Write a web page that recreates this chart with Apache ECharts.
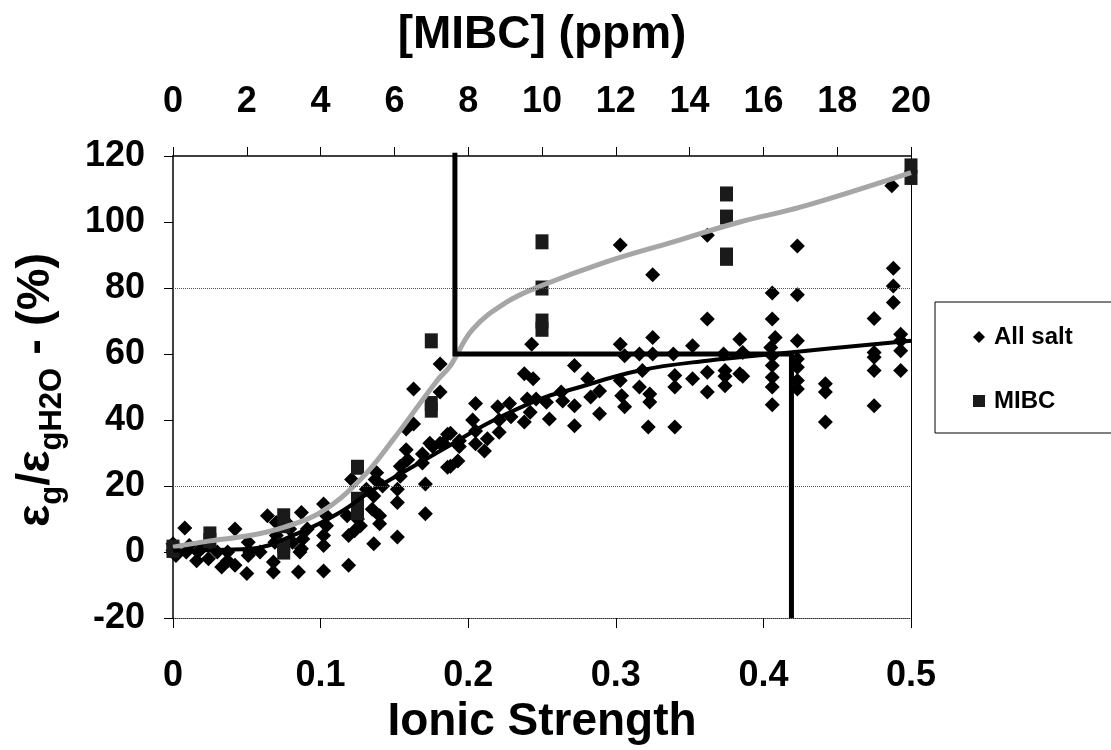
<!DOCTYPE html>
<html>
<head>
<meta charset="utf-8">
<script src="https://cdn.jsdelivr.net/npm/echarts@6/dist/echarts.min.js"></script>
<style>
  html, body { margin: 0; padding: 0; background: #fff; }
  #chart { width: 1111px; height: 750px; }
</style>
</head>
<body>
<div id="chart"></div>
<script>
// all salt points: [ionic strength, eg/egH2O %]
const saltPoints = [
  [0.0, 2.5], [0.0, 0.5], [0.002, -1], [0.008, 7.3], [0.009, 0], [0.011, 2], [0.016, -2.6], [0.017, 0],
  [0.02, 1.5], [0.024, -2], [0.03, 0], [0.033, -4.5], [0.037, 0], [0.037, -2.6], [0.042, 7], [0.042, -4],
  [0.05, -6.5], [0.051, 3], [0.051, -1], [0.052, 0], [0.059, 0], [0.064, 11], [0.068, -6], [0.068, -3],
  [0.069, 3], [0.07, 9], [0.07, 5], [0.077, 9], [0.079, 7], [0.081, 3], [0.085, -6], [0.086, 0],
  [0.087, 12], [0.088, 4], [0.087, 1], [0.091, 7], [0.102, 14.6], [0.102, 5], [0.102, 2], [0.102, -5.7],
  [0.104, 8], [0.104, 11], [0.118, 11], [0.119, 5], [0.119, -4], [0.121, 22], [0.123, 6.5], [0.125, 10],
  [0.127, 8], [0.131, 19], [0.135, 13], [0.136, 2.5], [0.136, 17], [0.137, 22], [0.138, 24], [0.14, 11],
  [0.14, 8.6], [0.142, 20], [0.152, 19], [0.152, 15], [0.152, 4.6], [0.154, 26], [0.154, 23], [0.158, 31],
  [0.158, 37.3], [0.159, 28], [0.163, 49.4], [0.163, 38.8], [0.169, 29.7], [0.169, 27], [0.171, 20.6], [0.171, 11.6],
  [0.174, 33], [0.176, 32], [0.181, 48.5], [0.181, 33], [0.183, 33], [0.186, 35.7], [0.186, 25.7], [0.188, 36],
  [0.188, 26], [0.193, 27.6], [0.194, 33.7], [0.194, 32], [0.181, 57],
  [0.203, 40], [0.205, 45], [0.205, 36.7], [0.205, 32.8], [0.211, 30.6], [0.213, 34.3], [0.22, 44], [0.221, 40],
  [0.221, 36.3], [0.228, 45], [0.229, 41], [0.238, 54], [0.24, 46.4], [0.238, 39.4], [0.243, 63], [0.244, 52.5],
  [0.246, 46.4], [0.242, 42.4], [0.255, 40.3], [0.253, 45.4], [0.263, 48.5], [0.264, 45.8], [0.272, 56.5], [0.272, 44.3],
  [0.272, 38.3], [0.281, 52.5], [0.283, 47], [0.289, 48.8], [0.289, 41.9], [0.303, 93], [0.303, 63], [0.306, 59.5],
  [0.303, 52], [0.304, 47.4], [0.306, 44], [0.316, 60], [0.318, 55], [0.316, 50], [0.323, 47.9], [0.323, 45.5],
  [0.325, 84], [0.325, 65], [0.325, 60], [0.322, 37.9], [0.339, 60], [0.34, 53.5], [0.34, 50], [0.34, 37.9],
  [0.352, 62.5], [0.352, 52.5], [0.362, 96], [0.362, 70.6], [0.362, 54.5], [0.362, 48.5], [0.373, 60], [0.374, 55],
  [0.374, 50.4], [0.374, 53.3], [0.384, 64.5], [0.384, 54], [0.386, 60.5], [0.386, 53.3],
  [0.406, 78.5], [0.406, 70.6], [0.408, 65], [0.405, 62], [0.406, 59.5], [0.406, 56.5], [0.406, 53], [0.406, 50],
  [0.406, 44.6], [0.423, 92.7], [0.423, 78], [0.423, 64], [0.423, 58.5], [0.423, 56], [0.423, 52], [0.423, 49.4],
  [0.442, 51], [0.442, 48.5], [0.442, 39.4], [0.475, 70.8], [0.475, 60.5], [0.475, 59], [0.475, 55], [0.475, 44.3],
  [0.487, 111], [0.488, 86], [0.488, 80.6], [0.488, 75.6], [0.493, 66], [0.493, 64], [0.493, 61], [0.493, 55]
];

// MIBC points: [ppm, %]
const mibcPoints = [
  [0, 1.5], [0, 0.5], [1, 5.5], [1, 3.5], [3, 11], [3, 8], [3, 2], [3, 0],
  [5, 25.7], [5, 16], [5, 14], [5, 12], [7, 64], [7, 45], [7, 43],
  [10, 94], [10, 80], [10, 70], [10, 67.5], [15, 108.5], [15, 101.5], [15, 90], [15, 89],
  [20, 117], [20, 113.5]
];

const mibcFit = [
  [0, 1.5], [0.025, 3.4], [0.052, 5], [0.075, 7.5], [0.1, 12], [0.127, 22], [0.149, 34], [0.179, 52],
  [0.188, 56.5], [0.203, 67.5], [0.226, 75.7], [0.249, 80.6], [0.294, 88], [0.339, 94], [0.384, 100],
  [0.425, 104.5], [0.5, 115]
];
const saltFit = [
  [0, 0.5], [0.052, 1], [0.086, 6], [0.113, 12], [0.136, 19], [0.163, 26], [0.19, 33], [0.215, 39.4],
  [0.249, 46.4], [0.271, 49.4], [0.316, 55], [0.362, 58], [0.418, 60.5], [0.5, 64]
];

const cutoffLine = [[0.191, 121], [0.191, 60], [0.419, 60], [0.419, -20]];
const gridValues = [20, 80];

const font = 'Liberation Sans';
const tickFont = {fontFamily: font, fontWeight: 'bold', fontSize: 36, color: '#000'};

const chart = echarts.init(document.getElementById('chart'));

const option = {
    backgroundColor: '#fff',
    animation: false,
    grid: {left: 173, right: 200, top: 156, bottom: 131},
    legend: {
        left: 935,
        top: 302,
        orient: 'vertical',
        borderColor: '#000',
        borderWidth: 1,
        padding: [23, 60, 20, 38],
        itemGap: 40,
        itemWidth: 12,
        itemHeight: 12,
        textStyle: {fontFamily: font, fontWeight: 'bold', fontSize: 24, color: '#000', padding: [0, 0, 0, 4]},
        data: [
            {name: 'All salt', icon: 'diamond'},
            {name: 'MIBC', icon: 'rect'}
        ]
    },
    xAxis: [
        {
            type: 'value',
            position: 'bottom',
            min: 0,
            max: 0.5,
            interval: 0.1,
            name: 'Ionic Strength',
            nameLocation: 'middle',
            nameGap: 80,
            nameTextStyle: {fontFamily: font, fontWeight: 'bold', fontSize: 46, color: '#000'},
            axisLine: {onZero: false, lineStyle: {color: '#333', width: 1, type: 'dotted'}},
            axisTick: {length: 10, lineStyle: {color: '#000'}},
            axisLabel: Object.assign({margin: 40}, tickFont),
            splitLine: {show: false}
        },
        {
            type: 'value',
            position: 'top',
            min: 0,
            max: 20,
            interval: 2,
            name: '[MIBC] (ppm)',
            nameLocation: 'middle',
            nameGap: 98,
            nameTextStyle: {fontFamily: font, fontWeight: 'bold', fontSize: 46, color: '#000'},
            axisLine: {onZero: false, lineStyle: {color: '#000', width: 1.5}},
            axisTick: {length: 9, lineStyle: {color: '#000'}},
            axisLabel: Object.assign({margin: 36}, tickFont),
            splitLine: {show: false}
        }
    ],
    yAxis: [
        {
            type: 'value',
            min: -20,
            max: 120,
            interval: 20,
            axisLine: {show: true, onZero: false, lineStyle: {color: '#000', width: 1.5}},
            axisTick: {show: true, length: 9, lineStyle: {color: '#000'}},
            axisLabel: Object.assign({margin: 28}, tickFont),
            splitLine: {show: false}
        },
        {
            type: 'value',
            position: 'right',
            min: -20,
            max: 120,
            interval: 20,
            axisLine: {show: true, onZero: false, lineStyle: {color: '#000', width: 1}},
            axisTick: {show: false},
            axisLabel: {show: false},
            splitLine: {show: false}
        }
    ],
    graphic: [
        {
            type: 'text',
            x: 36,
            y: 390,
            rotation: Math.PI / 2,
            style: {
                text: '{e|ε}{s|g}{e|/ε}{s|gH2O}{e| - (%)}',
                align: 'center',
                verticalAlign: 'middle',
                rich: {
                    e: {fontFamily: font, fontWeight: 'bold', fontSize: 47, lineHeight: 64, verticalAlign: 'middle', fill: '#000'},
                    s: {fontFamily: font, fontWeight: 'bold', fontSize: 31, lineHeight: 64, verticalAlign: 'bottom', fill: '#000'}
                }
            }
        }
    ],
    series: [
        {
            type: 'line',
            name: 'grid',
            data: [],
            silent: true,
            z: 1,
            markLine: {
                silent: true,
                symbol: 'none',
                label: {show: false},
                lineStyle: {type: 'dotted', color: '#555', width: 1},
                data: gridValues.map(v => ({yAxis: v}))
            }
        },
        {
            name: 'All salt',
            type: 'scatter',
            xAxisIndex: 0,
            symbol: 'diamond',
            symbolSize: 15,
            itemStyle: {color: '#000', opacity: 1},
            z: 2,
            data: saltPoints
        },
        {
            name: 'MIBC',
            type: 'scatter',
            xAxisIndex: 1,
            symbol: 'rect',
            symbolSize: [13, 15],
            itemStyle: {color: '#1a1a1a', opacity: 1},
            z: 2,
            data: mibcPoints
        },
        {
            type: 'line',
            name: 'MIBC fit',
            xAxisIndex: 0,
            smooth: 0.4,
            showSymbol: false,
            lineStyle: {color: '#a6a6a6', width: 5},
            z: 3,
            data: mibcFit
        },
        {
            type: 'line',
            name: 'salt fit',
            xAxisIndex: 0,
            smooth: 0.4,
            showSymbol: false,
            lineStyle: {color: '#000', width: 4},
            z: 4,
            data: saltFit
        },
        {
            type: 'line',
            name: 'cutoff',
            xAxisIndex: 0,
            showSymbol: false,
            clip: false,
            lineStyle: {color: '#000', width: 5, join: 'miter'},
            z: 5,
            data: cutoffLine
        }
    ]
};

chart.setOption(option);
</script>
</body>
</html>
